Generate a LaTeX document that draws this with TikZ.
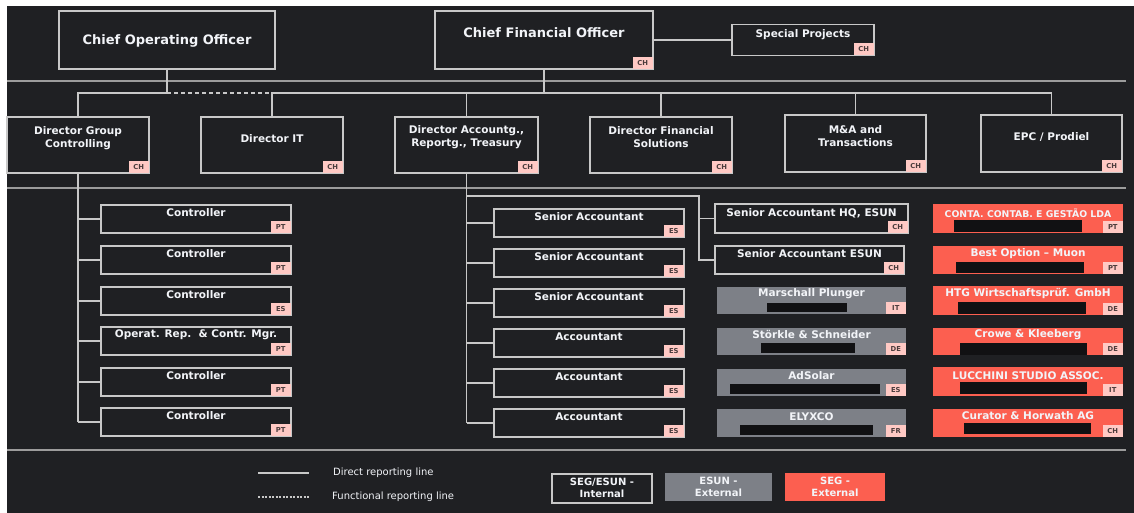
\documentclass[tikz,border=0pt]{standalone}
\usepackage{fontspec}
\setmainfont{DejaVu Sans}
\usetikzlibrary{calc}
\definecolor{bg}{HTML}{1F2023}
\definecolor{edge}{HTML}{C8C8C8}
\definecolor{sepc}{HTML}{9C9C9C}
\definecolor{txt}{HTML}{F2F4F8}
\definecolor{gboxc}{HTML}{7D8087}
\definecolor{rboxc}{HTML}{FC5F50}
\definecolor{tagc}{HTML}{FFC9C4}
\definecolor{tagt}{HTML}{4A3B3B}
\definecolor{redact}{HTML}{111113}
\begin{document}
\begin{tikzpicture}[x=1pt,y=-1pt,
  dbox/.style={draw=edge,line width=1.2pt,fill=bg,inner sep=0pt,outer sep=0pt},
  gbx/.style={fill=gboxc,inner sep=0pt,outer sep=0pt},
  rbx/.style={fill=rboxc,inner sep=0pt,outer sep=0pt},
  lbl/.style={text=txt,font=\fontsize{10.5}{13}\selectfont\bfseries,align=center,inner sep=0pt},
  big/.style={lbl,font=\fontsize{13}{15}\selectfont\bfseries},
  sml/.style={lbl,font=\fontsize{9.3}{11}\selectfont\bfseries},
  leg/.style={text=txt,font=\fontsize{10}{12}\selectfont,inner sep=0pt,anchor=west},
  legb/.style={lbl,font=\fontsize{10}{12}\selectfont\bfseries},
  tag/.style={fill=tagc,text=tagt,font=\fontsize{6.8}{7}\selectfont\bfseries,minimum width=20pt,minimum height=12pt,inner sep=0pt,anchor=south east},
  conn/.style={draw=edge,line width=1.1pt},
  fconn/.style={conn,dash pattern=on 4pt off 3pt},
  sepl/.style={draw=sepc,line width=1.3pt},
  bar/.style={fill=redact}
]
\useasboundingbox (0,0) rectangle (1134,513);
\fill[white] (0,0) rectangle (1134,513);
\fill[bg] (7,6) rectangle (1134,513);

% separators
\draw[sepl] (7,81) -- (1126,81);
\draw[sepl] (7,188) -- (1126,188);
\draw[sepl] (7,450) -- (1126,450);

% top level
\node[dbox,minimum width=216pt,minimum height=58pt] (coo) at (167,40) {};
\node[big] (coot) at (167,41) {Chief Operating Officer};
\node[dbox,minimum width=218pt,minimum height=58pt] (cfo) at (544,40) {};
\node[big] (cfot) at (544,33) {Chief Financial Officer};
\node[tag] (cfotag) at (cfo.south east) {CH};
\node[dbox,minimum width=142pt,minimum height=31pt] (sp) at (803,40) {};
\node[lbl] (spt) at (803,35) {Special Projects};
\node[tag] (sptag) at (sp.south east) {CH};

% directors
\node[dbox,minimum width=142pt,minimum height=56pt] (dgc) at (78,145) {};
\node[lbl] (dgct) at (78,138.5) {Director Group\\Controlling};
\node[tag] (dgctag) at (dgc.south east) {CH};
\node[dbox,minimum width=142pt,minimum height=56pt] (dit) at (272,145) {};
\node[lbl] (ditt) at (272,139) {Director IT};
\node[tag] (dittag) at (dit.south east) {CH};
\node[dbox,minimum width=143pt,minimum height=56pt] (dar) at (466.5,145) {};
\node[lbl] (dart) at (466.5,137.5) {Director Accountg.,\\Reportg., Treasury};
\node[tag] (dartag) at (dar.south east) {CH};
\node[dbox,minimum width=142pt,minimum height=56pt] (dfs) at (661,145) {};
\node[lbl] (dfst) at (661,137.5) {Director Financial\\Solutions};
\node[tag] (dfstag) at (dfs.south east) {CH};
\node[dbox,minimum width=141pt,minimum height=57pt] (mna) at (855.5,143.5) {};
\node[lbl] (mnat) at (855.5,136.5) {M\&A and\\Transactions};
\node[tag] (mnatag) at (mna.south east) {CH};
\node[dbox,minimum width=141pt,minimum height=57pt] (epc) at (1051.5,143.5) {};
\node[lbl] (epct) at (1051.5,137) {EPC / Prodiel};
\node[tag] (epctag) at (epc.south east) {CH};

% top connectors
\coordinate (bus) at (0,93);
\draw[conn] (cfo.east) -- (sp.west);
\draw[conn] (coo.south) -- (coo.south |- bus) -| (dgc.north);
\draw[fconn] (coo.south |- bus) -- (dit.north |- bus);
\draw[conn] (cfo.south) -- (cfo.south |- bus);
\draw[conn] (dit.north) -- (dit.north |- bus) -- (epc.north |- bus) -- (epc.north);
\draw[conn] (dar.north) -- (dar.north |- bus);
\draw[conn] (dfs.north) -- (dfs.north |- bus);
\draw[conn] (mna.north) -- (mna.north |- bus);

% controllers
\foreach \n/\yy/\tt/\cc in {c1/219/Controller/PT, c2/260/Controller/PT, c3/301/Controller/ES, c4/341/{Operat. Rep.\ \ \& Contr. Mgr.}/PT, c5/382/Controller/PT, c6/422/Controller/PT}{
  \node[dbox,minimum width=190pt,minimum height=28pt] (\n) at (196,\yy) {};
  \node[lbl] (\n t) at ($(\n.center)+(0,-6)$) {\tt};
  \node[tag] (\n tag) at (\n.south east) {\cc};
  \draw[conn] (dgc.south |- \n.west) -- (\n.west);
}
\draw[conn] (dgc.south) -- (dgc.south |- c6.west);

% accountants
\foreach \n/\yy/\tt in {a1/223/Senior Accountant, a2/263/Senior Accountant, a3/303/Senior Accountant, a4/343/Accountant, a5/383/Accountant, a6/423/Accountant}{
  \node[dbox,minimum width=190pt,minimum height=28pt] (\n) at (589,\yy) {};
  \node[lbl] (\n t) at ($(\n.center)+(0,-6)$) {\tt};
  \node[tag] (\n tag) at (\n.south east) {ES};
  \draw[conn] (dar.south |- \n.west) -- (\n.west);
}
\draw[conn] (dar.south) -- (dar.south |- a6.west);

% senior accountants HQ / ESUN
\node[dbox,minimum width=193pt,minimum height=29pt] (hq) at (811.5,218.5) {};
\node[lbl] (hqt) at (811.5,213) {Senior Accountant HQ, ESUN};
\node[tag] (hqtag) at (hq.south east) {CH};
\node[dbox,minimum width=189pt,minimum height=28pt] (esun) at (809.5,260) {};
\node[lbl] (esunt) at (809.5,254) {Senior Accountant ESUN};
\node[tag] (esuntag) at (esun.south east) {CH};
\coordinate (jx) at (699,196);
\draw[conn] (dar.south |- jx) -- (jx) -- (jx |- esun.west) -- (esun.west);
\draw[conn] (jx |- hq.west) -- (hq.west);

% ESUN external (gray)
\node[gbx,minimum width=189pt,minimum height=27pt] (g1) at (811.5,300.5) {};
\fill[redact] (767,303) rectangle (847,312);
\node[lbl] (g1t) at (811.5,294) {Marschall Plunger};
\node[tag] (g1tag) at (g1.south east) {IT};
\node[gbx,minimum width=189pt,minimum height=27pt] (g2) at (811.5,341.5) {};
\fill[redact] (761,343) rectangle (855,353);
\node[lbl] (g2t) at (811.5,335) {Störkle \& Schneider};
\node[tag] (g2tag) at (g2.south east) {DE};
\node[gbx,minimum width=189pt,minimum height=27pt] (g3) at (811.5,382.5) {};
\fill[redact] (730,384) rectangle (880,394);
\node[lbl] (g3t) at (811.5,376) {AdSolar};
\node[tag] (g3tag) at (g3.south east) {ES};
\node[gbx,minimum width=189pt,minimum height=28pt] (g4) at (811.5,423) {};
\fill[redact] (740,425) rectangle (873,435);
\node[lbl] (g4t) at (811.5,416.5) {ELYXCO};
\node[tag] (g4tag) at (g4.south east) {FR};

% SEG external (red)
\node[rbx,minimum width=190pt,minimum height=29pt] (r1) at (1028,218.5) {};
\fill[redact] (954,220) rectangle (1082,232);
\node[sml] (r1t) at (1028,213) {CONTA. CONTAB. E GESTÃO LDA};
\node[tag] (r1tag) at (r1.south east) {PT};
\node[rbx,minimum width=190pt,minimum height=28pt] (r2) at (1028,260) {};
\fill[redact] (956,262) rectangle (1084,273);
\node[lbl] (r2t) at (1028,253.5) {Best Option – Muon};
\node[tag] (r2tag) at (r2.south east) {PT};
\node[rbx,minimum width=190pt,minimum height=29pt] (r3) at (1028,300.5) {};
\fill[redact] (958,302) rectangle (1086,314);
\node[lbl] (r3t) at (1028,294) {HTG Wirtschaftsprüf. GmbH};
\node[tag] (r3tag) at (r3.south east) {DE};
\node[rbx,minimum width=190pt,minimum height=27pt] (r4) at (1028,341.5) {};
\fill[redact] (960,343) rectangle (1087,355);
\node[lbl] (r4t) at (1028,335) {Crowe \& Kleeberg};
\node[tag] (r4tag) at (r4.south east) {DE};
\node[rbx,minimum width=190pt,minimum height=29pt] (r5) at (1028,381.5) {};
\fill[redact] (960,382) rectangle (1087,394);
\node[lbl] (r5t) at (1028,376) {LUCCHINI STUDIO ASSOC.};
\node[tag] (r5tag) at (r5.south east) {IT};
\node[rbx,minimum width=190pt,minimum height=28pt] (r6) at (1028,423) {};
\fill[redact] (964,423) rectangle (1091,434);
\node[lbl] (r6t) at (1028,416) {Curator \& Horwath AG};
\node[tag] (r6tag) at (r6.south east) {CH};

% legend
\coordinate (ls1) at (258,473); \coordinate (le1) at (309,473);
\coordinate (ls2) at (258,497); \coordinate (le2) at (309,497);
\draw[conn] (ls1) -- (le1);
\draw[conn,dash pattern=on 2pt off 1.5pt] (ls2) -- (le2);
\node[leg] (lt1) at (333,473) {Direct reporting line};
\node[leg] (lt2) at (332,497) {Functional reporting line};
\node[dbox,minimum width=100pt,minimum height=29pt] (lb1) at (602,488.5) {};
\node[legb] (lb1t) at (602,488) {SEG/ESUN -\\Internal};
\node[gbx,minimum width=107pt,minimum height=28pt] (lb2) at (718.5,487) {};
\node[legb] (lb2t) at (718.5,487) {ESUN -\\External};
\node[rbx,minimum width=100pt,minimum height=28pt] (lb3) at (835,487) {};
\node[legb] (lb3t) at (835,487) {SEG -\\External};
\end{tikzpicture}
\end{document}
